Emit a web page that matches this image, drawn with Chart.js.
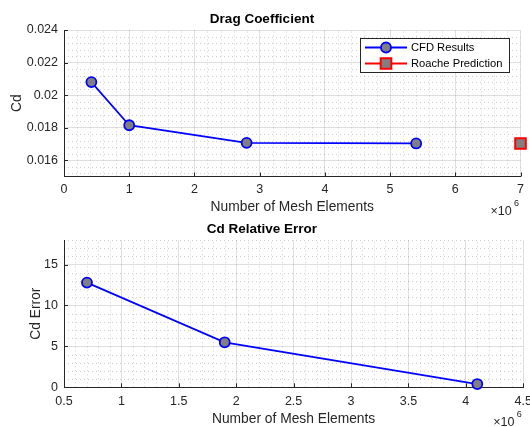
<!DOCTYPE html>
<html>
<head>
<meta charset="utf-8">
<script src="https://cdn.jsdelivr.net/npm/chart.js@4.4.1/dist/chart.umd.min.js"></script>
<style>
  html, body { margin: 0; padding: 0; background: #fff; }
  #wrap { position: relative; width: 530px; height: 427px; overflow: hidden; }
  .pane { position: absolute; left: 0; width: 530px; }
  #pane-cd { top: 0; height: 215px; }
  #pane-err { top: 215px; height: 212px; }
</style>
</head>
<body>
<div id="wrap">
  <div class="pane" id="pane-cd"><canvas id="cdChart"></canvas></div>
  <div class="pane" id="pane-err"><canvas id="errChart"></canvas></div>
</div>
<script>
// drag coefficient vs mesh size
const cfdMesh = [0.42e6, 1.0e6, 2.8e6, 5.4e6];
const cfdCd = [0.0208, 0.01815, 0.01707, 0.01703];
const roacheMesh = [7.0e6];
const roacheCd = [0.01703];

// relative error (%) vs mesh size
const errMesh = [0.7e6, 1.9e6, 4.1e6];
const errPct = [12.8, 5.5, 0.4];

// tick values
const cdXTicks = [0, 1e6, 2e6, 3e6, 4e6, 5e6, 6e6, 7e6];
const cdYTicks = [0.016, 0.018, 0.020, 0.022, 0.024];
const errXTicks = [0.5e6, 1e6, 1.5e6, 2e6, 2.5e6, 3e6, 3.5e6, 4e6, 4.5e6];
const errYTicks = [0, 5, 10, 15];

const FONT = '"Liberation Sans", Arial, Helvetica, sans-serif';
const AXIS = '#262626';
const GRID = 'rgba(38,38,38,0.15)';
const MINOR = 'rgba(38,38,38,0.22)';

Chart.defaults.font.family = FONT;
Chart.defaults.color = AXIS;
Chart.defaults.animation = false;

const pts = (xs, ys) => xs.map((x, i) => ({ x: x, y: ys[i] }));

// minor dotted grid, inward tick marks and the x10^6 exponent
const matlabAxes = {
  id: 'matlabAxes',
  beforeDatasetsDraw(chart, args, opts) {
    const { ctx, chartArea: a, scales: { x, y } } = chart;
    ctx.save();
    ctx.strokeStyle = MINOR;
    ctx.lineWidth = 1;
    ctx.setLineDash([1, 3]);
    const minorVals = (s, step) => {
      const out = [];
      for (let k = Math.ceil(s.min / step - 1e-6); k * step <= s.max + step * 1e-6; k++) {
        const v = k * step;
        if (!s.ticks.some(t => Math.abs(t.value - v) < step * 1e-3)) out.push(v);
      }
      return out;
    };
    minorVals(x, opts.xMinor).forEach(v => {
      const px = Math.round(x.getPixelForValue(v)) + 0.5;
      ctx.beginPath(); ctx.moveTo(px, a.bottom); ctx.lineTo(px, a.top); ctx.stroke();
    });
    minorVals(y, opts.yMinor).forEach(v => {
      const py = Math.round(y.getPixelForValue(v)) + 0.5;
      ctx.beginPath(); ctx.moveTo(a.left, py); ctx.lineTo(a.right, py); ctx.stroke();
    });
    ctx.setLineDash([]);
    ctx.strokeStyle = AXIS;
    x.ticks.forEach(t => {
      const px = Math.round(x.getPixelForValue(t.value)) + 0.5;
      ctx.beginPath(); ctx.moveTo(px, a.bottom); ctx.lineTo(px, a.bottom - 4); ctx.stroke();
    });
    y.ticks.forEach(t => {
      const py = Math.round(y.getPixelForValue(t.value)) + 0.5;
      ctx.beginPath(); ctx.moveTo(a.left, py); ctx.lineTo(a.left + 4, py); ctx.stroke();
    });
    ctx.fillStyle = AXIS;
    ctx.textAlign = 'left';
    ctx.textBaseline = 'middle';
    ctx.font = '12.5px ' + FONT;
    ctx.fillText('\u00d710', a.right - 30, a.bottom + 35);
    ctx.font = '9px ' + FONT;
    ctx.fillText('6', a.right - 6.5, a.bottom + 27);
    ctx.restore();
  }
};

// boxed legend with line + marker samples
const cdLegend = {
  id: 'cdLegend',
  afterDatasetsDraw(chart) {
    const { ctx, chartArea: a } = chart;
    const bx = Math.round(a.right - 160.5), by = Math.round(a.top + 8), bw = 149, bh = 34;
    ctx.save();
    ctx.fillStyle = '#fff';
    ctx.fillRect(bx, by, bw, bh);
    ctx.strokeStyle = '#262626';
    ctx.lineWidth = 1;
    ctx.strokeRect(bx + 0.5, by + 0.5, bw, bh);
    chart.data.datasets.forEach((ds, i) => {
      const cy = by + 9.5 + i * 16;
      ctx.strokeStyle = ds.borderColor;
      ctx.lineWidth = 1.8;
      ctx.beginPath(); ctx.moveTo(bx + 5, cy); ctx.lineTo(bx + 47, cy); ctx.stroke();
      ctx.fillStyle = ds.pointBackgroundColor;
      ctx.strokeStyle = ds.pointBorderColor;
      ctx.lineWidth = ds.pointBorderWidth;
      Chart.helpers.drawPoint(ctx, {
        pointStyle: ds.pointStyle, radius: ds.pointRadius, rotation: 0, borderWidth: ds.pointBorderWidth
      }, bx + 26, cy);
      ctx.fillStyle = '#000';
      ctx.font = '11.2px ' + FONT;
      ctx.textAlign = 'left';
      ctx.textBaseline = 'middle';
      ctx.fillText(ds.label, bx + 51, cy);
    });
    ctx.restore();
  }
};

function linAxis(o) {
  return {
    type: 'linear',
    min: o.min,
    max: o.max,
    afterBuildTicks: s => { s.ticks = o.ticks.map(v => ({ value: v })); },
    afterFit: s => {
      if (o.width) s.width = o.width;
      if (o.height) s.height = o.height;
      s.paddingLeft = s.paddingRight = s.paddingTop = s.paddingBottom = 0;
    },
    grid: { color: GRID, lineWidth: 1, drawTicks: false },
    border: { color: AXIS, width: 1 },
    ticks: {
      callback: o.fmt, padding: o.tickPad, autoSkip: false, maxRotation: 0,
      color: AXIS, font: { size: 12.5 }
    },
    title: {
      display: true, text: o.title, color: AXIS,
      font: { size: 13.8 }, padding: { top: o.titlePad, bottom: 0 }
    }
  };
}

const meshFmt = v => String(+(v / 1e6).toFixed(1));

new Chart(document.getElementById('cdChart'), {
  type: 'scatter',
  data: {
    datasets: [
      {
        label: 'CFD Results',
        data: pts(cfdMesh, cfdCd),
        showLine: true,
        borderColor: '#0000ff',
        borderWidth: 1.8,
        pointStyle: 'circle',
        pointRadius: 5,
        pointBackgroundColor: '#808080',
        pointBorderColor: '#0000ff',
        pointBorderWidth: 1.8,
        clip: false
      },
      {
        label: 'Roache Prediction',
        data: pts(roacheMesh, roacheCd),
        showLine: false,
        borderColor: '#ff0000',
        pointStyle: 'rect',
        pointRadius: 7.5,
        pointBackgroundColor: '#808080',
        pointBorderColor: '#ff0000',
        pointBorderWidth: 2,
        clip: false
      }
    ]
  },
  options: {
    responsive: true,
    maintainAspectRatio: false,
    layout: { padding: { top: 11, right: 6, left: 0, bottom: 0 } },
    plugins: {
      legend: { display: false },
      tooltip: { enabled: false },
      title: {
        display: true, text: 'Drag Coefficient', color: '#000',
        font: { size: 13.5, weight: 'bold' }, padding: { top: 0, bottom: 2.8 }
      },
      matlabAxes: { xMinor: 0.2e6, yMinor: 0.0004 }
    },
    scales: {
      x: linAxis({ min: 0, max: 7e6, ticks: cdXTicks, fmt: meshFmt, height: 38.5,
        tickPad: 5.5, title: 'Number of Mesh Elements', titlePad: 0.4 }),
      y: linAxis({ min: 0.015, max: 0.024, ticks: cdYTicks, fmt: v => String(+v.toFixed(3)),
        width: 64, tickPad: 6, title: 'Cd', titlePad: 9.3 })
    }
  },
  plugins: [matlabAxes, cdLegend]
});

new Chart(document.getElementById('errChart'), {
  type: 'scatter',
  data: {
    datasets: [
      {
        label: 'Cd Error',
        data: pts(errMesh, errPct),
        showLine: true,
        borderColor: '#0000ff',
        borderWidth: 1.8,
        pointStyle: 'circle',
        pointRadius: 5,
        pointBackgroundColor: '#808080',
        pointBorderColor: '#0000ff',
        pointBorderWidth: 1.8,
        clip: false
      }
    ]
  },
  options: {
    responsive: true,
    maintainAspectRatio: false,
    layout: { padding: { top: 6, right: 6.3, left: 0, bottom: 0 } },
    plugins: {
      legend: { display: false },
      tooltip: { enabled: false },
      title: {
        display: true, text: 'Cd Relative Error', color: '#000',
        font: { size: 13.5, weight: 'bold' }, padding: { top: 0, bottom: 2.8 }
      },
      matlabAxes: { xMinor: 0.1e6, yMinor: 1 }
    },
    scales: {
      x: linAxis({ min: 0.5e6, max: 4.5e6, ticks: errXTicks, fmt: meshFmt, height: 39.7,
        tickPad: 6.5, title: 'Number of Mesh Elements', titlePad: 1.1 }),
      y: linAxis({ min: 0, max: 18, ticks: errYTicks, fmt: v => String(v),
        width: 64, tickPad: 6, title: 'Cd Error', titlePad: 27.8 })
    }
  },
  plugins: [matlabAxes]
});
</script>
</body>
</html>
